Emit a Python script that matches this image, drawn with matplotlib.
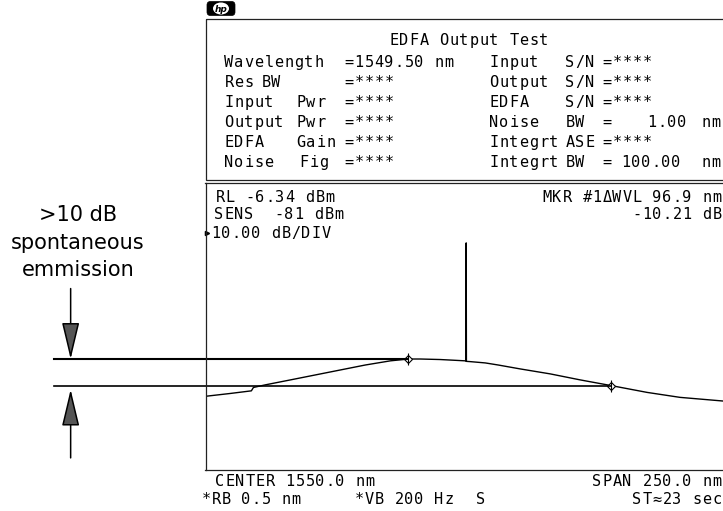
import matplotlib
matplotlib.use("Agg")
import matplotlib.pyplot as plt
from matplotlib.patches import Rectangle, FancyBboxPatch, Ellipse

# instrument settings (from the screen)
center_nm = 1550.0
span_nm = 250.0
ref_level = -6.34
db_per_div = 10.0

# EDFA output trace (nm, dBm)
wl = [1426.0, 1436.9, 1446.9, 1447.9, 1453.6, 1465.6, 1477.5, 1489.4, 1501.3,
      1513.3, 1521.9, 1527.6, 1537.1, 1544.3, 1549.0, 1549.4, 1549.5, 1549.6,
      1551.4, 1558.6, 1564.8, 1575.3, 1589.6, 1603.9, 1618.8, 1635.9, 1651.6,
      1672.1, 1676.0]
pw = [-88.0, -87.0, -86.0, -84.7, -83.7, -81.8, -79.9, -78.0, -76.1,
      -74.5, -73.8, -73.8, -74.0, -74.3, -74.5, -74.6, -29.3, -74.7,
      -74.8, -75.3, -76.1, -77.6, -79.5, -81.8, -84.0, -86.6, -88.5,
      -89.9, -90.1]

# the two markers (delta 96.9 nm, -10.21 dB)
mkr_wl = [1521.9, 1618.8]
mkr_pw = [-73.8, -84.0]

# annotation on the left
note_lines = [">10 dB", "spontaneous", "emmission"]
arrow_nm = 1360.6
line_start_nm = 1352.5

# screen text
title = "EDFA Output Test"
left_rows = [["Wavelength", "=1549.50 nm"], ["Res", "BW", "=****"],
             ["Input", "Pwr", "=****"], ["Output", "Pwr", "=****"],
             ["EDFA", "Gain", "=****"], ["Noise", "Fig", "=****"]]
left_cols = [[225, 345], [225, 262, 345], [225, 297, 345], [225, 297, 345],
             [225, 297, 345], [225, 300, 345]]
right_rows = [["Input", "S/N", "=****"], ["Output", "S/N", "=****"],
              ["EDFA", "S/N", "=****"], ["Noise", "BW", "=", "1.00", "nm"],
              ["Integrt", "ASE", "=****"], ["Integrt", "BW", "=", "100.00", "nm"]]
right_cols = [[490, 566, 603], [490, 566, 603], [490, 566, 603],
              [490, 566, 603, 648, 702], [490, 566, 603],
              [490, 566, 603, 622, 702]]

W, H = 723, 511
fig = plt.figure(figsize=(W / 100, H / 100), dpi=100)
ov = fig.add_axes([0, 0, 1, 1])
ov.set_xlim(0, W)
ov.set_ylim(H, 0)
ov.axis("off")

P = 10.0
MONO = "DejaVu Sans Mono"


def hp(x, y, s, right=False):
    # fixed character cells like the analyser's screen font
    if right:
        x = x - 8 - (len(s) - 1) * P
    for i, ch in enumerate(s):
        if ch != " ":
            ov.text(x + 4 + i * P, y, ch, ha="center", va="baseline",
                    fontsize=11, family=MONO, color="black")


# hp logo
ov.add_patch(FancyBboxPatch((207, 1.5), 28, 14, boxstyle="round,pad=0,rounding_size=3.5",
                            fc="black", ec="black", lw=0.5))
ov.add_patch(Ellipse((221, 8.5), 16, 12, fc="white", ec="none"))
ov.text(221, 9, "hp", ha="center", va="center", fontsize=6.5, style="italic",
        weight="bold", color="black")

# upper parameter box
ov.add_patch(Rectangle((205.5, 19), 540, 161, fill=False, ec="#222", lw=0.9))
hp(390, 45, title)
for i in range(6):
    yb = 67 + 20 * i
    for s, x in zip(left_rows[i], left_cols[i]):
        hp(x, yb, s)
    for s, x in zip(right_rows[i], right_cols[i]):
        hp(x, yb, s)

# trace window
ax = fig.add_axes([205.5 / W, (H - 470) / H, (729 - 205.5) / W, (470 - 183) / H])
ax.set_facecolor("none")
ax.set_xlim(center_nm - span_nm / 2, center_nm + span_nm / 2)
ax.set_ylim(ref_level - 11 * db_per_div, ref_level)
ax.set_xticks([])
ax.set_yticks([])
for sp in ax.spines.values():
    sp.set_linewidth(0.9)
    sp.set_color("#222")

ax.plot(wl, pw, color="black", lw=1.0)
ax.plot(mkr_wl, mkr_pw, ls="none", marker="D", ms=4, mfc="white", mec="black", mew=0.8)
ax.plot(mkr_wl, mkr_pw, ls="none", marker="|", ms=9, mec="black", mew=0.8)

# level lines from the left annotation to each marker
for xm, lv, lw in zip(mkr_wl, mkr_pw, [1.5, 1.2]):
    ax.plot([line_start_nm, xm], [lv, lv], color="black", lw=lw, clip_on=False)

# arrows pointing at the two levels
arrow_kw = dict(arrowstyle="-|>,head_length=2.3,head_width=0.55", lw=1.1,
                color="black", fc="#555555", shrinkA=0, shrinkB=0)
ax.annotate("", xy=(arrow_nm, mkr_pw[0]), xytext=(arrow_nm, mkr_pw[0] + 27),
            arrowprops=arrow_kw, annotation_clip=False)
ax.annotate("", xy=(arrow_nm, mkr_pw[1] - 1.5), xytext=(arrow_nm, -111.7),
            arrowprops=arrow_kw, annotation_clip=False)

for txt, yc in zip(note_lines, [215, 243, 270]):
    ov.text(78, yc, txt, ha="center", va="center", fontsize=15,
            family="DejaVu Sans", color="black")

# screen annotations inside the trace window
hp(216, 202, "RL -6.34 dBm")
hp(215, 219, "SENS  -81 dBm")
ov.plot([207], [233], marker=">", ms=3, color="black")
hp(212, 238, "10.00 dB/DIV")
hp(721, 202, "MKR #1\u0394WVL 96.9 nm", right=True)
hp(721, 219, "-10.21 dB", right=True)

# bottom status lines
hp(216, 486, "CENTER 1550.0 nm")
hp(721, 486, "SPAN 250.0 nm", right=True)
hp(202, 504, "*RB 0.5 nm")
hp(355, 504, "*VB 200 Hz")
hp(477, 504, "S")
hp(721, 504, "ST\u224823 sec", right=True)

fig.savefig("out.png", dpi=100)
